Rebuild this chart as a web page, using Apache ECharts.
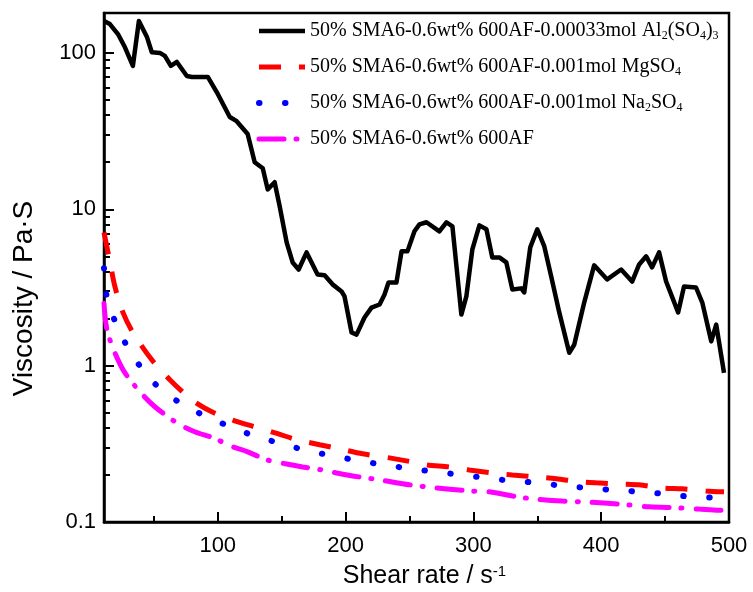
<!DOCTYPE html>
<html>
<head>
<meta charset="utf-8">
<script src="https://cdn.jsdelivr.net/npm/echarts@6.0.0/dist/echarts.min.js"></script>
<style>html,body{margin:0;padding:0;background:#fff}#c{width:753px;height:592px}</style>
</head>
<body>
<div id="c"></div>
<script>
var seriesNames = [
  '50% SMA6-0.6wt% 600AF-0.00033mol Al2(SO4)3',
  '50% SMA6-0.6wt% 600AF-0.001mol MgSO4',
  '50% SMA6-0.6wt% 600AF-0.001mol Na2SO4',
  '50% SMA6-0.6wt% 600AF'
];
var legendRich = [
  '50% SMA6-0.6wt% 600AF-0.00033mol Al{b|2}(SO{b|4}){b|3}',
  '50% SMA6-0.6wt% 600AF-0.001mol MgSO{b|4}',
  '50% SMA6-0.6wt% 600AF-0.001mol Na{b|2}SO{b|4}',
  '50% SMA6-0.6wt% 600AF'
];
var xMajorTicks = [100, 200, 300, 400, 500];
var xMinorTicks = [50, 150, 250, 350, 450];
var yMajorTicks = [0.1, 1, 10, 100];
var yMinorTicks = [0.2,0.3,0.4,0.5,0.6,0.7,0.8,0.9,2,3,4,5,6,7,8,9,20,30,40,50,60,70,80,90];

var alX = [11,15.6,21.9,27.3,33.6,38.3,44.5,48.4,54.7,58.6,63.3,68.0,75.8,79.7,92.2,99.2,109.4,114.8,123.4,128.9,135.2,139.1,144.5,148.4,153.9,158.6,163.3,169.5,178.1,183.6,189.8,196.9,199.2,204.7,208.6,214.8,220.3,226.6,230.5,233.6,239.8,243.8,248.4,253.9,257.8,263.3,273.4,278.9,283.6,290.6,294.5,299.2,304.7,310.2,314.8,320.3,325.8,330.5,337.5,339.8,344.5,350,355.5,360.9,367.2,375,378.9,386.7,394.5,404.7,415.6,424.2,429.7,435.2,439.8,445.3,450.8,460.2,464.8,474.2,479.1,486.1,490,496.1];
var alY = [160,153,132,109,82.6,160,127,101,100,95.7,82.6,87.5,71.2,70.2,70.2,56.2,38.9,36.6,30.3,20.0,18.3,13.4,14.9,10.5,6.14,4.57,4.12,5.30,3.83,3.78,3.31,2.98,2.77,1.63,1.58,2.03,2.35,2.46,2.85,3.40,3.40,5.38,5.38,7.23,8.01,8.26,7.23,8.26,7.78,2.12,2.77,5.54,7.89,7.45,4.92,4.92,4.57,3.07,3.12,2.94,5.71,7.45,5.79,3.72,2.19,1.21,1.36,2.53,4.38,3.56,4.12,3.45,4.44,5.00,4.25,5.30,3.45,2.19,3.21,3.16,2.53,1.43,1.83,0.90];

var mgX = [11,15.6,19.5,25.8,33.6,48.4,62.5,79.7,95.3,113.3,128.9,146.9,161.7,179.7,195.3,213.3,234.4,247.7,263.3,281.3,296.9,314.8,330.5,349.2,364.8,382.8,396.1,416.4,429.7,447.7,463.3,482,496.1];
var mgY = [7.1,4.64,3.21,2.19,1.63,1.09,0.813,0.605,0.507,0.444,0.406,0.367,0.336,0.312,0.294,0.273,0.257,0.246,0.232,0.225,0.215,0.206,0.200,0.194,0.189,0.181,0.178,0.175,0.173,0.165,0.163,0.158,0.156];

var naX = [11,13.3,21.1,32.8,50,70.3,91.4,110.2,130.5,150.8,170.3,190.6,210.2,230.5,250.8,271.1,290.6,310.9,330.5,350.8,370.3,389.8,410.2,430.5,450.8,470.3,490.6,496];
var naY = [4.2,2.73,1.80,1.18,0.778,0.579,0.471,0.406,0.351,0.316,0.285,0.265,0.246,0.232,0.219,0.209,0.200,0.191,0.183,0.178,0.170,0.165,0.160,0.156,0.151,0.145,0.143,0.142];

var afX = [11,13.3,19.5,27.3,39.1,50.8,68,82,96.1,111.7,123.4,138.3,153.9,166.4,182,193,211,226.6,250,271.1,296.9,312.5,333.6,349.2,369.5,390.6,419.5,437.5,460.9,476.6,492.2,496];
var afY = [2.5,1.70,1.21,0.902,0.681,0.546,0.431,0.378,0.346,0.303,0.281,0.250,0.235,0.225,0.215,0.206,0.194,0.186,0.173,0.165,0.158,0.156,0.145,0.140,0.136,0.134,0.129,0.125,0.123,0.121,0.119,0.119];

var lineStyles = [
  {color: '#000000', width: 4.5, type: 'solid', cap: 'butt', join: 'round'},
  {color: '#ff0000', width: 5, type: [22, 18], cap: 'butt'},
  {color: '#0000ff', width: 6, type: [0.5, 25.5], cap: 'round'},
  {color: '#ff00ff', width: 5, type: [25, 12, 1, 14], cap: 'round'}
];

function zip(xs, ys) { return xs.map(function (x, i) { return [x, ys[i]]; }); }

var chart = echarts.init(document.getElementById('c'), null, {renderer: 'canvas'});
var sans = 'Liberation Sans';
var dataSets = [zip(alX, alY), zip(mgX, mgY), zip(naX, naY), zip(afX, afY)];
var option = {
  backgroundColor: '#fff',
  animation: false,
  grid: {left: 104, right: 24, top: 13, bottom: 70, containLabel: false, outerBoundsMode: 'none',
         show: true, borderColor: '#000', borderWidth: 2.5, backgroundColor: 'transparent'},
  legend: {
    orient: 'vertical', left: 256, top: 20, padding: 0, itemWidth: 46, itemHeight: 20, itemGap: 14,
    data: seriesNames.map(function (n, i) {
      return {name: n, lineStyle: lineStyles[i], itemStyle: {opacity: 0}};
    }),
    formatter: function (name) { return legendRich[seriesNames.indexOf(name)]; },
    textStyle: {fontFamily: 'Liberation Serif', fontSize: 20, color: '#000', lineHeight: 22,
      rich: {b: {fontFamily: 'Liberation Serif', fontSize: 12, lineHeight: 12, verticalAlign: 'bottom', color: '#000'}}}
  },
  xAxis: [{
    type: 'value', min: 11, max: 500, position: 'bottom',
    name: 'Shear rate / s{p|-1}', nameLocation: 'middle', nameGap: 42,
    nameTextStyle: {fontFamily: sans, fontSize: 25, color: '#000', padding: [0, 0, 0, 16],
      rich: {p: {fontFamily: sans, fontSize: 15, lineHeight: 12, verticalAlign: 'top', color: '#000'}}},
    axisLine: {show: true, lineStyle: {color: '#000', width: 2.5}},
    axisTick: {show: true, inside: true, length: 10, lineStyle: {color: '#000', width: 2}, customValues: xMajorTicks},
    axisLabel: {show: true, fontFamily: sans, fontSize: 22, color: '#000', margin: 13, customValues: xMajorTicks},
    splitLine: {show: false}
  }, {
    type: 'value', min: 11, max: 500, position: 'bottom', gridIndex: 0,
    axisLine: {show: false},
    axisTick: {show: true, inside: true, length: 6, lineStyle: {color: '#000', width: 2}, customValues: xMinorTicks},
    axisLabel: {show: false}, splitLine: {show: false}
  }],
  yAxis: [{
    type: 'log', logBase: 10, min: 0.1, max: 180, position: 'left',
    name: 'Viscosity / Pa·S', nameLocation: 'middle', nameGap: 66, nameRotate: 90,
    nameTextStyle: {fontFamily: sans, fontSize: 28, color: '#000', padding: [0, 62, 0, 0]},
    axisLine: {show: true, lineStyle: {color: '#000', width: 2.5}},
    axisTick: {show: true, inside: true, length: 10, lineStyle: {color: '#000', width: 2}, customValues: yMajorTicks},
    axisLabel: {show: true, fontFamily: sans, fontSize: 22, color: '#000', margin: 8, customValues: yMajorTicks,
      formatter: function (v) { return String(+(+v).toPrecision(3)); }},
    splitLine: {show: false}
  }, {
    type: 'log', logBase: 10, min: 0.1, max: 180, position: 'left', gridIndex: 0,
    axisLine: {show: false},
    axisTick: {show: true, inside: true, length: 6, lineStyle: {color: '#000', width: 2}, customValues: yMinorTicks},
    axisLabel: {show: false}, splitLine: {show: false}
  }],
  series: seriesNames.map(function (n, i) {
    return {
      name: n, type: 'line', data: dataSets[i], symbol: 'none', showSymbol: false,
      smooth: i === 0 ? false : 0.3,
      lineStyle: lineStyles[i], itemStyle: {color: lineStyles[i].color}
    };
  })
};
chart.setOption(option);
</script>
</body>
</html>
